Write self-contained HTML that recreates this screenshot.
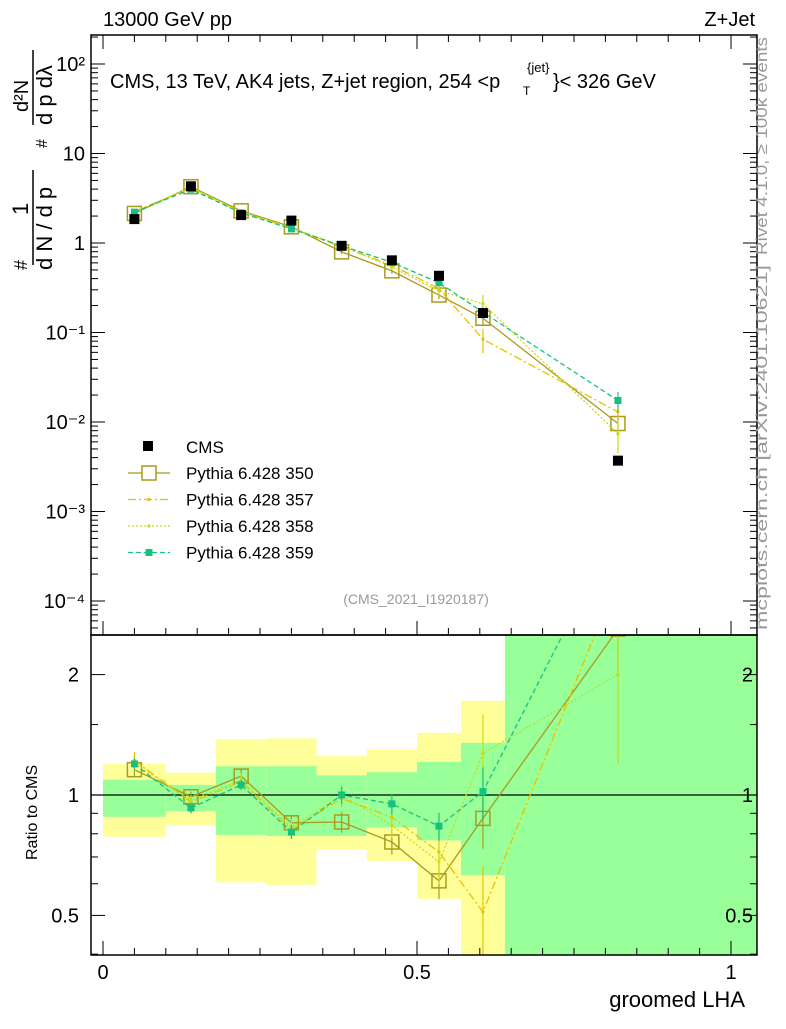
<!DOCTYPE html>
<html><head><meta charset="utf-8"><style>
body{margin:0;background:#fff;}
svg{font-family:"Liberation Sans",sans-serif;}
</style></head><body>
<svg id="c" width="786" height="1024" xmlns="http://www.w3.org/2000/svg"></svg>
<script>
const xEdges=[0,0.1,0.18,0.26,0.34,0.42,0.5,0.57,0.64,1.0];
const xCenters=[0.05,0.14,0.22,0.30,0.38,0.46,0.535,0.605,0.82];
const cmsVals=[1.85,4.3,2.05,1.78,0.93,0.64,0.43,0.165,0.0037];
const r350=[1.157,0.99,1.115,0.852,0.856,0.763,0.61,0.874,2.6];
const r357=[1.22,0.96,1.08,0.82,0.98,0.88,0.72,0.51,3.5];
const r358=[1.2,0.97,1.09,0.83,1.0,0.84,0.68,1.27,2.0];
const r359=[1.196,0.928,1.06,0.808,1.0,0.95,0.836,1.02,4.7];
const e350=[0.04,0.03,0.04,0.04,0.06,0.07,0.1,0.16,0.25];
const e357=[0.05,0.03,0.04,0.04,0.05,0.06,0.08,0.3,0.15];
const e358=[0.04,0.03,0.04,0.05,0.05,0.07,0.12,0.25,0.4];
const e359=[0.03,0.03,0.03,0.04,0.05,0.06,0.08,0.15,0.25];
const yellowHi=[1.198,1.137,1.378,1.385,1.25,1.3,1.43,1.72,2.6];
const yellowLo=[0.786,0.839,0.605,0.596,0.73,0.684,0.55,0.3,0.3];
const greenHi=[1.092,1.06,1.18,1.18,1.12,1.14,1.21,1.35,2.6];
const greenLo=[0.882,0.912,0.794,0.79,0.79,0.83,0.77,0.63,0.3];
const xTicks=[0,0.5,1];
const xTickLabels=["0","0.5","1"];
const yTicksMain=[-4,-3,-2,-1,0,1,2];
const yTickLabelsMain=["10\u207B\u2074","10\u207B\u00B3","10\u207B\u00B2","10\u207B\u00B9","1","10","10\u00B2"];
const ratioTicks=[0.5,1,2];

const svg=document.getElementById('c');const NS='http://www.w3.org/2000/svg';
function el(t,a,p){const e=document.createElementNS(NS,t);for(const k in a)e.setAttribute(k,a[k]);(p||svg).appendChild(e);return e;}
const L=91,R=757,T=35,MB=635,RB=955;
const X=v=>103+628*v;
const Y=v=>243-89.5*Math.log10(v);
const YR=v=>Math.min(RB,Math.max(MB,795-400*Math.log10(v)));

const bands=el('g',{});
for(let i=0;i<9;i++){
 const x1=X(xEdges[i]),x2=i==8?R:X(xEdges[i+1]);
 const y=el('rect',{x:x1,y:YR(yellowHi[i]),width:x2-x1,height:YR(yellowLo[i])-YR(yellowHi[i]),fill:'#ffff99'},bands);
 
 const g=el('rect',{x:x1,y:YR(greenHi[i]),width:x2-x1,height:YR(greenLo[i])-YR(greenHi[i]),fill:'#99ff99'},bands);
 
}
el('line',{x1:L,x2:R,y1:795,y2:795,stroke:'#000','stroke-width':1.3});

const defs=el('defs',{});
const c1=el('clipPath',{id:'cm'},defs);el('rect',{x:L,y:T,width:R-L,height:MB-T},c1);
const c2=el('clipPath',{id:'cr'},defs);el('rect',{x:L,y:MB,width:R-L,height:RB-MB},c2);

const series=[
 {name:'Pythia 6.428 350',r:r350,e:e350,col:'#a89b1e',dash:'',mk:'open'},
 {name:'Pythia 6.428 357',r:r357,e:e357,col:'#e6c200',dash:'8,3,2,3',mk:'dot'},
 {name:'Pythia 6.428 358',r:r358,e:e358,col:'#c8dc14',dash:'2,2',mk:'dot'},
 {name:'Pythia 6.428 359',r:r359,e:e359,col:'#18c080',dash:'5,3',mk:'sq'}
];
const gm=el('g',{'clip-path':'url(#cm)'});const gr=el('g',{'clip-path':'url(#cr)'});
series.forEach(s=>{
 const mv=cmsVals.map((c,i)=>c*s.r[i]);
 for(const [grp,vals] of [[gm,mv],[gr,s.r]]){
  const yy=v=>grp===gr?795-400*Math.log10(v):Y(v);
  const g=el('g',{},grp);
  
  
  el('polyline',{points:xCenters.map((x,i)=>X(x)+','+yy(vals[i])).join(' '),fill:'none',stroke:s.col,'stroke-width':1.3,'stroke-dasharray':s.dash},g);
  vals.forEach((v,i)=>{
   const x=X(xCenters[i]);
   el('line',{x1:x,x2:x,y1:yy(v*(1+s.e[i])),y2:yy(v*(1-s.e[i])),stroke:s.col,'stroke-width':1.2},g);
   const y=yy(v);
   if(s.mk==='open')el('rect',{x:x-7,y:y-7,width:14,height:14,fill:'none',stroke:s.col,'stroke-width':1.5},g);
   else if(s.mk==='sq')el('rect',{x:x-3.5,y:y-3.5,width:7,height:7,fill:s.col},g);
   else el('circle',{cx:x,cy:y,r:1.6,fill:s.col},g);
  });
 }
});
const gc=el('g',{'clip-path':'url(#cm)'});
cmsVals.forEach((v,i)=>{el('rect',{x:X(xCenters[i])-5,y:Y(v)-5,width:10,height:10,fill:'#000'},gc);});

el('rect',{x:L,y:T,width:R-L,height:MB-T,fill:'none',stroke:'#000','stroke-width':1.5});
el('rect',{x:L,y:MB,width:R-L,height:RB-MB,fill:'none',stroke:'#000','stroke-width':1.5});
yTicksMain.forEach((d,i)=>{
 const y=Y(Math.pow(10,d));
 el('line',{x1:L,x2:L+14,y1:y,y2:y,stroke:'#000'});el('line',{x1:R,x2:R-14,y1:y,y2:y,stroke:'#000'});
 const t=el('text',{x:L-6,y:y+7,'text-anchor':'end','font-size':20});t.textContent=yTickLabelsMain[i];
 
 for(let m=2;m<10;m++){const ym=Y(m*Math.pow(10,d-1));if(ym<T||ym>MB)continue;
  el('line',{x1:L,x2:L+7,y1:ym,y2:ym,stroke:'#000'});el('line',{x1:R,x2:R-7,y1:ym,y2:ym,stroke:'#000'});}
});
for(let m=2;m<10;m++){const ym=Y(m*100);if(ym>=T){el('line',{x1:L,x2:L+7,y1:ym,y2:ym,stroke:'#000'});el('line',{x1:R,x2:R-7,y1:ym,y2:ym,stroke:'#000'});}}
ratioTicks.forEach(r=>{const y=795-400*Math.log10(r);
 el('line',{x1:L,x2:L+14,y1:y,y2:y,stroke:'#000'});el('line',{x1:R,x2:R-14,y1:y,y2:y,stroke:'#000'});
 const t=el('text',{x:L-12,y:y+7,'text-anchor':'end','font-size':20});t.textContent=r;
 
 const t2=el('text',{x:R-4,y:y+7,'font-size':20,'text-anchor':'end'});t2.textContent=r;
 
});
[0.4,0.6,0.7,0.8,0.9,1.5].forEach(r=>{const y=795-400*Math.log10(r);if(y>RB)return;
 el('line',{x1:L,x2:L+7,y1:y,y2:y,stroke:'#000'});el('line',{x1:R,x2:R-7,y1:y,y2:y,stroke:'#000'});});
for(let k=0;k<=20;k++){const v=k*0.05;const x=X(v);const big=k%10==0;
 [MB,RB].forEach(b=>{el('line',{x1:x,x2:x,y1:b,y2:b-(big?14:7),stroke:'#000'});});
 el('line',{x1:x,x2:x,y1:T,y2:T+(big?14:7),stroke:'#000'});}
xTicks.forEach((v,i)=>{const t=el('text',{x:X(v),y:979,'text-anchor':'middle','font-size':20});t.textContent=xTickLabels[i];
 });
function txt(s,a,name){const t=el('text',a);t.textContent=s;return t;}
txt('13000 GeV pp',{x:103,y:26,'font-size':20},'beam-label');
txt('Z+Jet',{x:755,y:26,'font-size':20,'text-anchor':'end'},'process-label');
txt('CMS, 13 TeV, AK4 jets, Z+jet region, 254 <p',{x:110,y:88,'font-size':20},'plot-title');
txt('T',{x:523,y:95,'font-size':12},'title-sub');
txt('{jet}',{x:527,y:72,'font-size':13},'title-sup');
txt('}< 326 GeV',{x:553,y:88,'font-size':20},'title-end');
txt('(CMS_2021_I1920187)',{x:416,y:604,'font-size':14,fill:'#999','text-anchor':'middle'},'analysis-id');
txt('groomed LHA',{x:745,y:1007,'font-size':22,'text-anchor':'end'},'x-axis-title');
txt('Ratio to CMS',{x:0,y:0,'font-size':16,transform:'translate(37,860) rotate(-90)'},'ratio-y-title');
txt('1',{x:0,y:0,'font-size':22,transform:'translate(28,215) rotate(-90)'},'y-title-num1');
txt('d N / d p',{x:0,y:0,'font-size':22,transform:'translate(52,270) rotate(-90)'},'y-title-den1');
txt('#',{x:0,y:0,'font-size':18,transform:'translate(27,270) rotate(-90)'},'y-title-hash1');
txt('#',{x:0,y:0,'font-size':16,transform:'translate(47,148) rotate(-90)'},'y-title-hash2');
txt('d²N',{x:0,y:0,'font-size':20,transform:'translate(28,112) rotate(-90)'},'y-title-num2');
txt('d p  dλ',{x:0,y:0,'font-size':22,transform:'translate(52,125) rotate(-90)'},'y-title-den2');
el('line',{x1:33,x2:33,y1:170,y2:265,stroke:'#000','stroke-width':1.5});
el('line',{x1:33,x2:33,y1:50,y2:125,stroke:'#000','stroke-width':1.5});
txt('Rivet 4.1.0, ≥ 100k events',{x:0,y:0,'font-size':16,fill:'#999',textLength:218,lengthAdjust:'spacingAndGlyphs',transform:'translate(767,255) rotate(-90)'},'rivet-label');
txt('mcplots.cern.ch [arXiv:2401.10621]',{x:0,y:0,'font-size':16,fill:'#999',textLength:365,lengthAdjust:'spacingAndGlyphs',transform:'translate(767,630) rotate(-90)'},'mcplots-label');
const lg=el('g',{});
el('rect',{x:143,y:441,width:10,height:10,fill:'#000'},lg);
txt('CMS',{x:186,y:453,'font-size':17},'legend-cms');
series.forEach((s,i)=>{const y=473+26.5*i;
 el('line',{x1:128,x2:170,y1:y,y2:y,stroke:s.col,'stroke-width':1.3,'stroke-dasharray':s.dash},lg);
 if(s.mk==='open')el('rect',{x:142,y:y-7,width:14,height:14,fill:'#fff',stroke:s.col,'stroke-width':1.5},lg);
 else if(s.mk==='sq')el('rect',{x:145.5,y:y-3.5,width:7,height:7,fill:s.col},lg);
 else el('circle',{cx:149,cy:y,r:1.6,fill:s.col},lg);
 txt(s.name,{x:186,y:y+6,'font-size':17},'legend-entry');
});
</script>
</body></html>
